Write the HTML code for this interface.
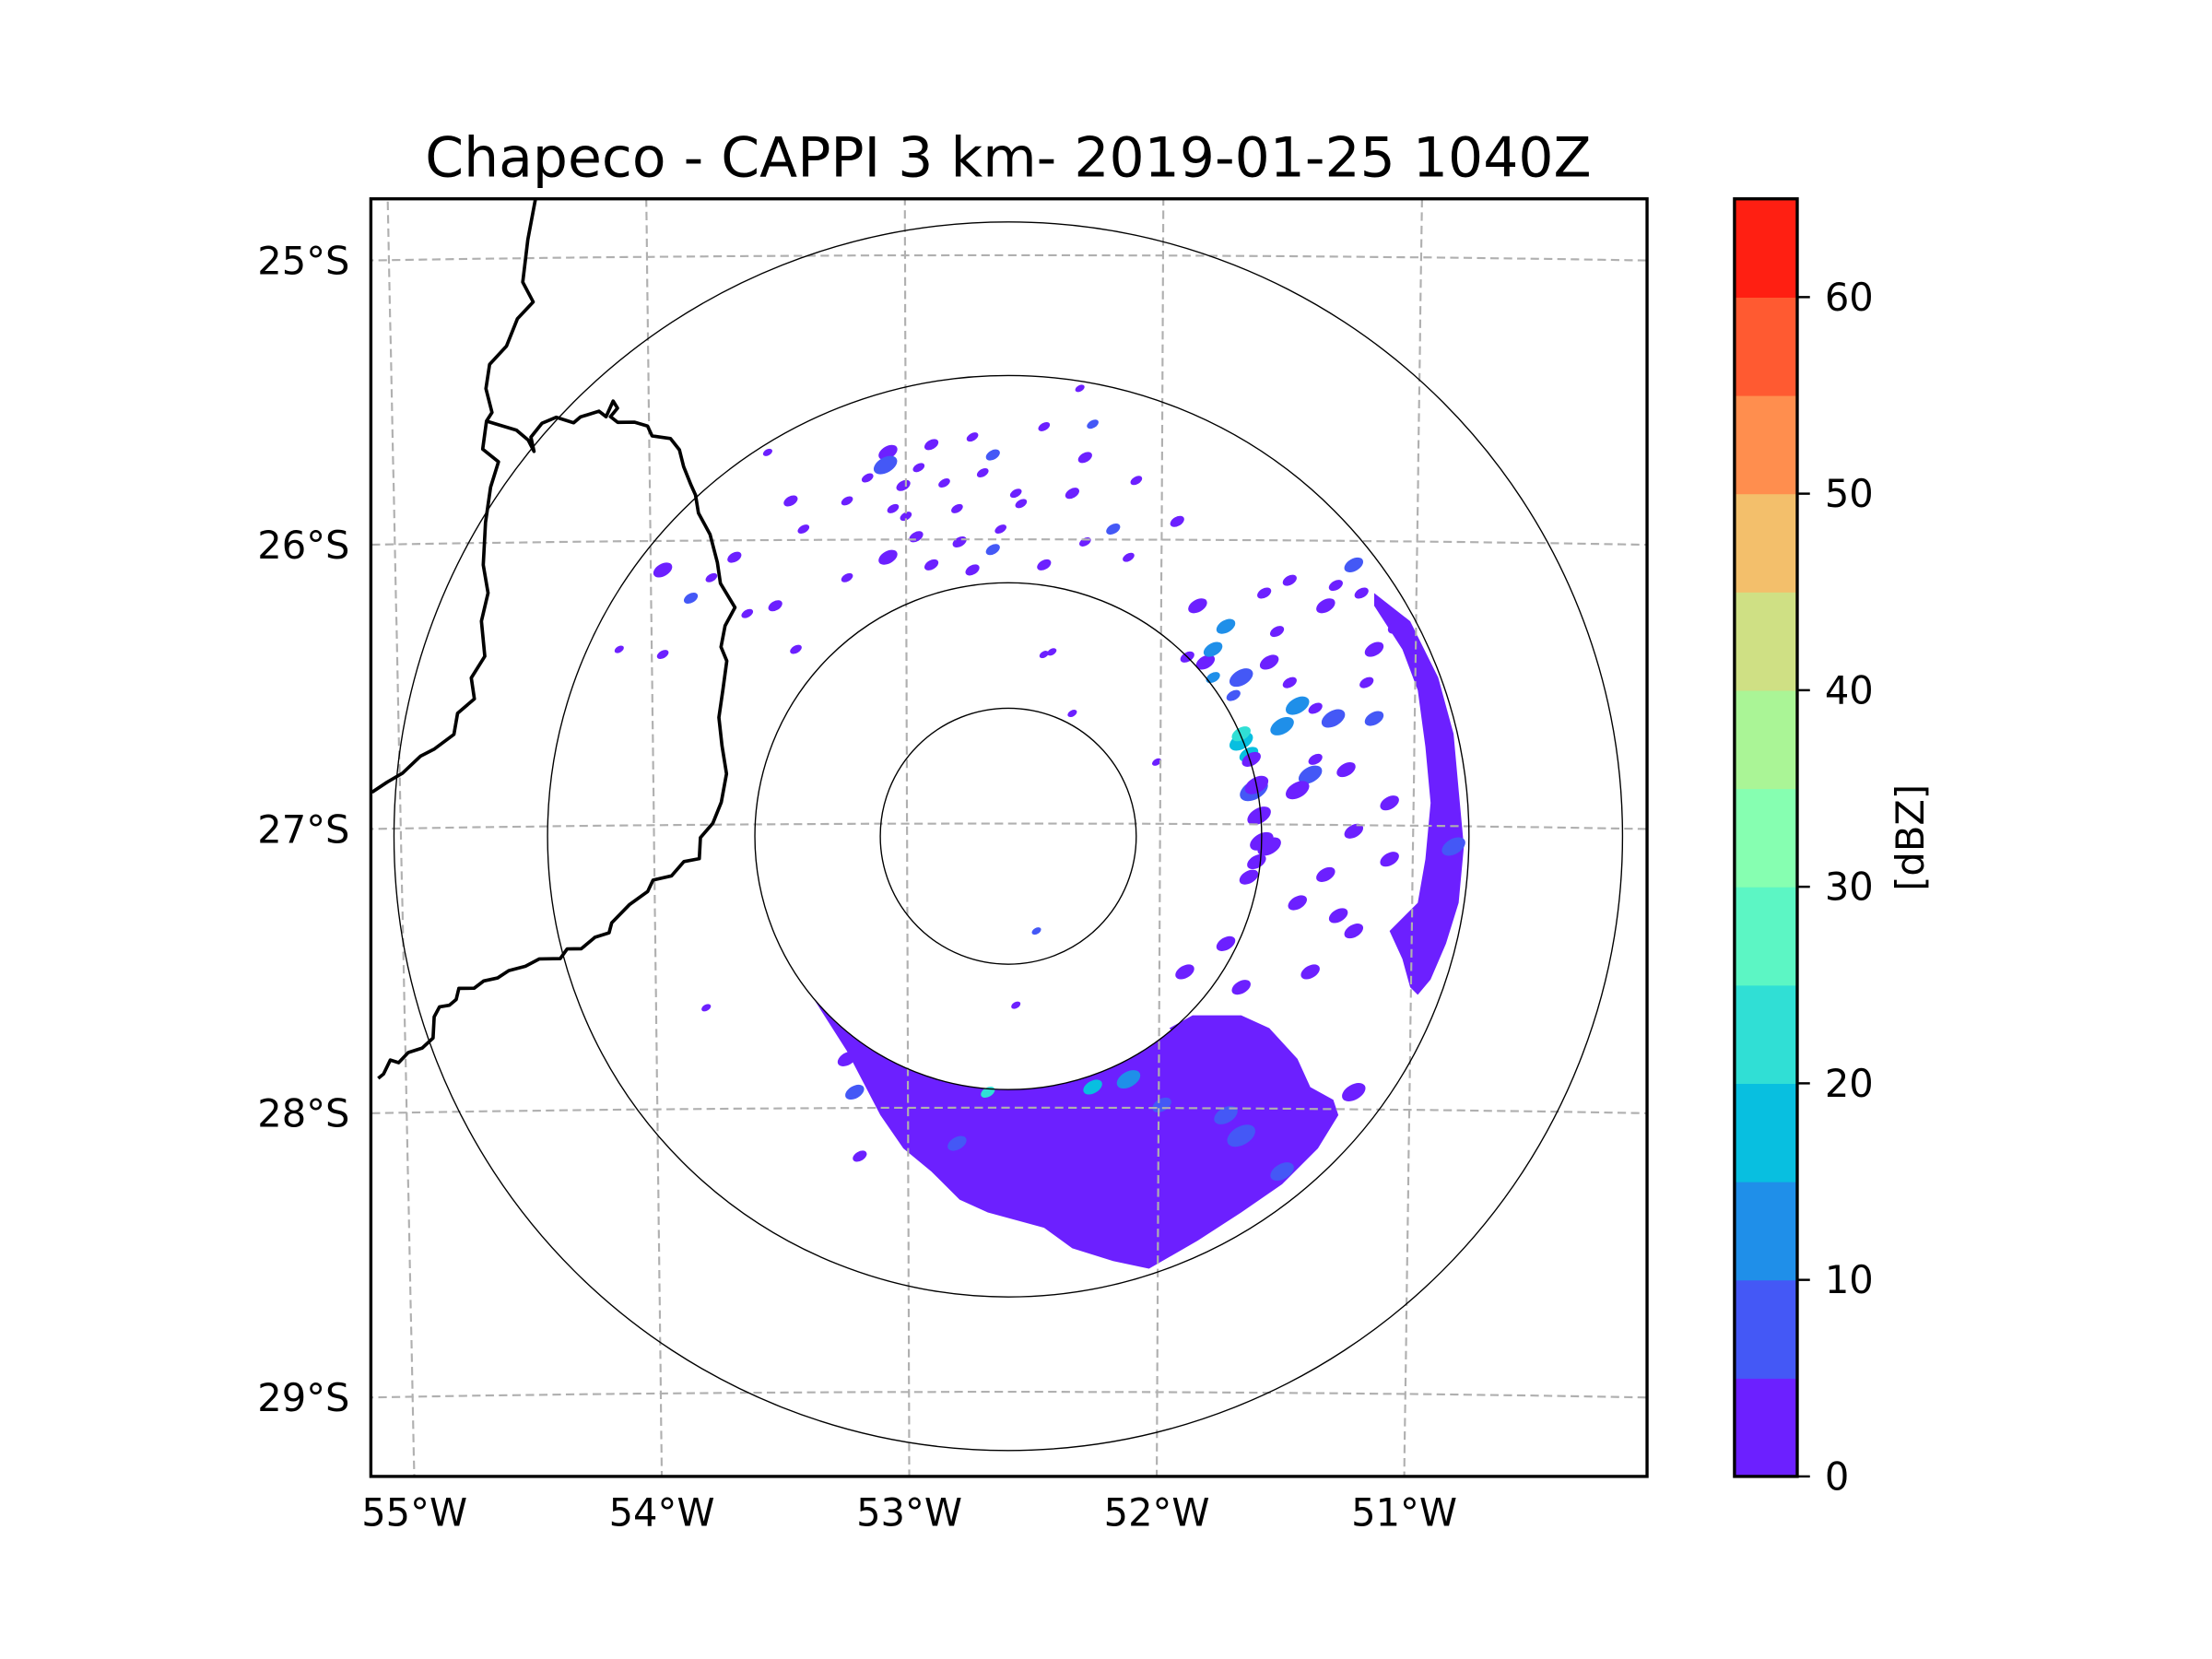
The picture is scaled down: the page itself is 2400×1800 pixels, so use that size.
<!DOCTYPE html>
<html><head><meta charset="utf-8"><title>Chapeco CAPPI</title>
<style>html,body{margin:0;padding:0;background:#fff;}svg{display:block;font-family:"DejaVu Sans","Liberation Sans",sans-serif;}</style>
</head><body>
<svg id="chart" width="2400" height="1800" viewBox="0 0 2400 1800" xmlns="http://www.w3.org/2000/svg">
<rect width="2400" height="1800" fill="#fff"/>
<g id="root" transform="scale(1.53)">
<defs><clipPath id="axclip"><rect x="263" y="141" width="905" height="906"/></clipPath></defs>
<text x="715" y="125" font-size="39.2" text-anchor="middle">Chapeco - CAPPI 3 km- 2019-01-25 1040Z</text>
<g id="map" clip-path="url(#axclip)"></g>
<rect x="263" y="141" width="905" height="906" fill="none" stroke="#000" stroke-width="2.2"/>
<g id="axes-labels"></g>
<g id="colorbar"></g>
</g>
</svg>
<script>
// ---- data ----
const lonTicks = [-55, -54, -53, -52, -51];
const lonLabels = ["55°W", "54°W", "53°W", "52°W", "51°W"];
const latTicks = [-25, -26, -27, -28, -29];
const latLabels = ["25°S", "26°S", "27°S", "28°S", "29°S"];
const ringRadiiKm = [50, 99, 180, 240];
const cbLevels = [0,5,10,15,20,25,30,35,40,45,50,55,60,65];
const cbColors = ["#6c20ff","#4458f6","#1f8fe9","#08bfe0","#30dfd5","#5cf6c4","#86ffb1","#aaf596","#cfe084","#f3bf6b","#ff8e4e","#ff5a31","#ff1f12"];
const cbTicks = [0,10,20,30,40,50,60];
// echoes: east/north offsets from radar (km), reflectivity (dBZ), size (km)
const echoEast  = [-47,-41,-48,-30,-14,-6,14,30,33,-36,-19,-3,3,25,41,47,-47,-30,-14,-6,14,30,-85,-80,-63,-135,-124,-107,-94,50,66,28,-91,-83,-102,-116,-152,-135,-63,17,
 74,85,77,91,102,124,135,143,152,113,127,107,118,132,91,96,113,102,143,149,135,124,113,129,149,118,135,85,
 -58,-63,69,91,135,-118,11,3,58,25,14,
 -8,33,47,91,107,85,91,94,80,174,60,-20,-60,
 95,97,98,99,97,94,88,80,70,105,110,120,128,138,140,120,110,100,-55,-45,-35,-25,-10,5,-40,-20];
const echoNorth = [150,137,145,153,156,149,160,148,161,117,115,120,134,134,120,109,109,106,104,112,106,115,131,120,131,104,93,109,150,139,123,175,90,73,87,101,73,71,101,72,
 90,82,68,62,68,90,106,73,82,51,46,43,24,26,37,18,18,-4,46,13,2,-15,-26,-31,-9,-53,-37,-42,
 -125,-87,-53,-59,-100,-67,-37,-66,29,48,71,
 -100,-98,-95,-117,-131,-109,40,32,73,-4,-105,-120,-100,
 30,20,8,-2,-10,-16,55,62,70,80,60,50,98,95,60,30,100,95,140,128,144,138,142,130,125,128];
const echoDbz   = [2,2,7,2,2,7,2,2,7,2,2,2,2,2,7,2,2,2,2,7,2,2,2,2,2,2,7,2,2,2,2,2,2,2,2,2,2,2,2,2,
 2,12,2,7,2,2,7,2,2,12,7,12,7,2,17,7,2,2,7,2,2,2,2,2,2,2,2,2,
 2,2,2,2,2,2,7,2,2,2,2,
 22,17,12,8,8,8,22,17,12,8,8,8,8,
 2,2,2,2,2,2,7,12,2,2,2,2,2,2,2,2,2,2,2,2,2,2,2,2,2,2];
const echoSize  = [4,3,5,3,2.5,3,2.5,3,2.5,3,3,2.5,2.5,3,3,2.5,4,3,3,3,3,2.5,3,2.5,2.5,4,3,3,2,2.5,3,2,3,2.5,2.5,2.5,2,2.5,2.5,2,
 4,4,4,5,4,4,4,4,4,5,5,5,5,4,5,6,5,5,4,4,4,4,4,4,4,4,4,4,
 3,4,4,4,5,2,2,2,2,2,2,
 3,4,5,6,5,5,4,4,4,5,4,4,4,
 4,5,5,5,4,4,3,3,3,3,3,3,3,3,3,3,3,3,2.5,2.5,2.5,2.5,2.5,2.5,2.5,2.5];
// south precipitation mass outer boundary (km)
const massEast  = [-77,-63,-50,-41,-30,-19,-8,14,25,41,55,74,91,107,121,129,127,118,113,102,91,72,63];
const massNorth = [-62,-84,-109,-122,-131,-142,-147,-153,-161,-166,-169,-158,-147,-136,-122,-109,-103,-98,-87,-75,-70,-70,-75];
// east band boundary (km)
const bandEast  = [143,157,168,174,176,178,176,171,165,160,157,154,149,160,163,165,163,160,154,143];
const bandNorth = [95,84,62,40,18,-4,-26,-42,-56,-62,-59,-48,-37,-26,-9,13,35,57,73,90];
// state/country borders (lon, lat)
const borderA = [[-54.428,-24.80],[-54.461,-24.945],[-54.483,-25.094],[-54.444,-25.164],[-54.506,-25.223],[-54.55,-25.318],[-54.617,-25.382],[-54.633,-25.467],[-54.611,-25.551],[-54.633,-25.581],[-54.65,-25.68],[-54.589,-25.725],[-54.622,-25.814],[-54.644,-25.938],[-54.656,-26.087],[-54.639,-26.186],[-54.667,-26.285],[-54.656,-26.409],[-54.711,-26.484],[-54.7,-26.558],[-54.767,-26.608],[-54.783,-26.682],[-54.861,-26.732],[-54.917,-26.757],[-54.989,-26.816],[-55.05,-26.846],[-55.111,-26.881]];
const borderB = [[-54.633,-25.581],[-54.6,-25.591],[-54.517,-25.615],[-54.472,-25.65],[-54.45,-25.69],[-54.461,-25.64],[-54.417,-25.591],[-54.361,-25.571],[-54.294,-25.591],[-54.267,-25.571],[-54.194,-25.551],[-54.167,-25.571],[-54.139,-25.516],[-54.122,-25.541],[-54.15,-25.571],[-54.122,-25.591],[-54.056,-25.591],[-54.006,-25.605],[-53.989,-25.64],[-53.917,-25.65],[-53.883,-25.69],[-53.867,-25.749],[-53.839,-25.814],[-53.822,-25.849],[-53.811,-25.913],[-53.767,-25.988],[-53.739,-26.087],[-53.728,-26.161],[-53.672,-26.246],[-53.711,-26.31],[-53.728,-26.385],[-53.706,-26.434],[-53.722,-26.533],[-53.739,-26.633],[-53.728,-26.732],[-53.711,-26.831],[-53.733,-26.931],[-53.767,-27.005],[-53.817,-27.055],[-53.822,-27.129],[-53.883,-27.139],[-53.933,-27.189],[-54.006,-27.203],[-54.028,-27.243],[-54.1,-27.288],[-54.172,-27.352],[-54.183,-27.387],[-54.239,-27.402],[-54.294,-27.442],[-54.35,-27.442],[-54.378,-27.476],[-54.461,-27.476],[-54.517,-27.501],[-54.583,-27.516],[-54.628,-27.541],[-54.683,-27.551],[-54.722,-27.576],[-54.783,-27.576],[-54.794,-27.615],[-54.822,-27.635],[-54.861,-27.64],[-54.883,-27.675],[-54.889,-27.749],[-54.933,-27.784],[-54.989,-27.799],[-55.028,-27.834],[-55.061,-27.824],[-55.089,-27.873],[-55.111,-27.888]];

// ---- projection ----
const NS = 'http://www.w3.org/2000/svg';
const RX = 715, RY = 593, PXKM = 1.815;
function projX(lon, lat){ return 715 + (lon + 52.6) * (179.5 + 1.75 * (lat + 27)); }
function projY(lon, lat){ return 584 - (lat + 27) * 201.5 + 0.6 * (lon + 52.6) * (lon + 52.6); }
function kmX(e){ return RX + e * PXKM; }
function kmY(n){ return RY - n * PXKM; }
function mk(tag, attrs, parent){ const el = document.createElementNS(NS, tag); for (const k in attrs) el.setAttribute(k, attrs[k]); parent.appendChild(el); return el; }
function colorFor(v){ for (let i = 0; i < cbColors.length; i++) if (v < cbLevels[i+1]) return cbColors[i]; return cbColors[cbColors.length-1]; }

const map = document.getElementById('map');
const labels = document.getElementById('axes-labels');

// echoes: mass and band
let d = '';
massEast.forEach((e, i) => { d += (i ? 'L' : 'M') + kmX(e).toFixed(1) + ',' + kmY(massNorth[i]).toFixed(1); });
const a1 = Math.atan2(massEast[massEast.length-1], massNorth[massNorth.length-1]);
const a0 = Math.atan2(massEast[0], massNorth[0]) + 2*Math.PI;
for (let k = 0; k <= 30; k++) { const a = a1 + (a0 - a1) * k / 30; d += 'L' + kmX(99 * Math.sin(a)).toFixed(1) + ',' + kmY(99 * Math.cos(a)).toFixed(1); }
d += 'Z';
const mass = mk('path', {d: d, fill: colorFor(2)}, map);


let bd = '';
bandEast.forEach((e, i) => { bd += (i ? 'L' : 'M') + kmX(e).toFixed(1) + ',' + kmY(bandNorth[i]).toFixed(1); });
const band = mk('path', {d: bd + 'Z', fill: colorFor(2)}, map);


echoEast.forEach((e, i) => {
  const s = echoSize[i] * PXKM;
  const cx = kmX(e).toFixed(1), cy = kmY(echoNorth[i]).toFixed(1);
  const el = mk('ellipse', {cx: cx, cy: cy, rx: (s*1.0).toFixed(1), ry: (s*0.6).toFixed(1), fill: colorFor(echoDbz[i]), transform: 'rotate(-30 ' + cx + ' ' + cy + ')'}, map);
  
  
});

// gridlines
lonTicks.forEach((lon) => {
  let p = '';
  for (let lat = -24.7; lat >= -29.35; lat -= 0.1) p += (p ? 'L' : 'M') + projX(lon, lat).toFixed(1) + ',' + projY(lon, lat).toFixed(1);
  const g = mk('path', {d: p, fill: 'none', stroke: '#b0b0b0', 'stroke-width': 1.4, 'stroke-dasharray': '6,3.5'}, map);
  
  
});
latTicks.forEach((lat) => {
  let p = '';
  for (let lon = -55.3; lon <= -49.9; lon += 0.1) p += (p ? 'L' : 'M') + projX(lon, lat).toFixed(1) + ',' + projY(lon, lat).toFixed(1);
  const g = mk('path', {d: p, fill: 'none', stroke: '#b0b0b0', 'stroke-width': 1.4, 'stroke-dasharray': '6,3.5'}, map);
  
  
});

// borders
[borderA, borderB].forEach((b) => {
  const p = b.map((pt, i) => (i ? 'L' : 'M') + projX(pt[0], pt[1]).toFixed(1) + ',' + (projY(pt[0], pt[1]) - 2).toFixed(1)).join('');
  const el = mk('path', {d: p, fill: 'none', stroke: '#000', 'stroke-width': 2.4, 'stroke-linejoin': 'round'}, map);
  
  
});

// range rings
ringRadiiKm.forEach((r) => {
  const c = mk('circle', {cx: RX, cy: RY, r: r * PXKM, fill: 'none', stroke: '#000', 'stroke-width': 0.9}, map);
  
  
});

// tick labels
lonTicks.forEach((lon, i) => {
  const t = mk('text', {x: projX(lon, -29.3).toFixed(1), y: 1082, 'font-size': 27.2, 'text-anchor': 'middle'}, labels);
  t.textContent = lonLabels[i];
  
  
});
latTicks.forEach((lat, i) => {
  const t = mk('text', {x: 248, y: (projY(-55.2, lat) + 9.5).toFixed(1), 'font-size': 27.2, 'text-anchor': 'end'}, labels);
  t.textContent = latLabels[i];
  
  
});

// colorbar
const cb = document.getElementById('colorbar');
const CBX = 1230, CBW = 44.5, CBT = 141, CBB = 1047;
function cbY(v){ return CBB - (v - cbLevels[0]) / (cbLevels[cbLevels.length-1] - cbLevels[0]) * (CBB - CBT); }
cbColors.forEach((c, i) => {
  const r = mk('rect', {x: CBX, y: cbY(cbLevels[i+1]).toFixed(2), width: CBW, height: (cbY(cbLevels[i]) - cbY(cbLevels[i+1]) + 0.4).toFixed(2), fill: c}, cb);
  
  
});
const cbf = mk('rect', {x: CBX, y: CBT, width: CBW, height: CBB - CBT, fill: 'none', stroke: '#000', 'stroke-width': 2.2}, cb);


cbTicks.forEach((v) => {
  const y = cbY(v);
  const tk = mk('line', {x1: CBX + CBW, x2: CBX + CBW + 9, y1: y, y2: y, stroke: '#000', 'stroke-width': 1.6}, cb);
  
  
  const t = mk('text', {x: 1294, y: (y + 9.5).toFixed(1), 'font-size': 27.2}, cb);
  t.textContent = String(v);
  
  
});
const cbl = mk('text', {x: 1364, y: 594, 'font-size': 27.2, 'text-anchor': 'middle', transform: 'rotate(-90 1364 594)'}, cb);
cbl.textContent = '[dBZ]';


</script>
</body></html>
